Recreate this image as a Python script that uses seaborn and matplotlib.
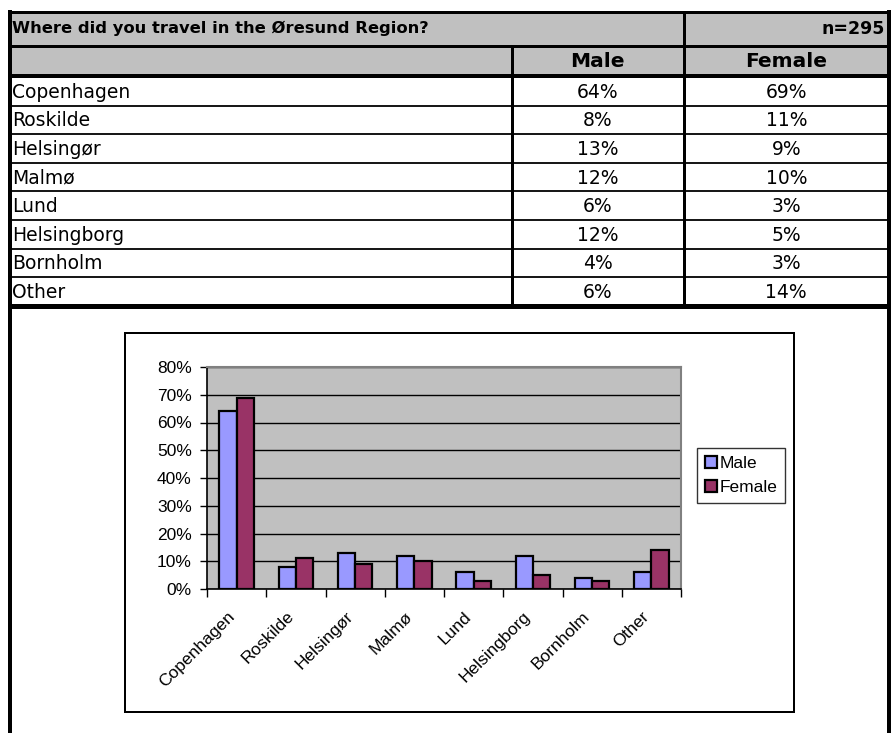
import matplotlib
matplotlib.use("Agg")
import matplotlib.pyplot as plt
import matplotlib.patches as mpatches
import matplotlib.transforms as mtransforms
from matplotlib.ticker import PercentFormatter, FixedLocator, NullFormatter
import seaborn as sns
import pandas as pd

# ---------------- data ----------------
title = "Where did you travel in the Øresund Region?"
n_label = "n=295"
categories = ["Copenhagen", "Roskilde", "Helsingør", "Malmø", "Lund",
              "Helsingborg", "Bornholm", "Other"]
male = [64, 8, 13, 12, 6, 12, 4, 6]
female = [69, 11, 9, 10, 3, 5, 3, 14]
series_names = ["Male", "Female"]
y_ticks = [0, 10, 20, 30, 40, 50, 60, 70, 80]

# ---------------- style ----------------
sns.set_theme(style="white")
plt.rcParams["font.family"] = ["Liberation Sans", "DejaVu Sans"]
plt.rcParams["text.color"] = "black"
plt.rcParams["xtick.color"] = "black"
plt.rcParams["ytick.color"] = "black"
plt.rcParams["axes.labelcolor"] = "black"

TF = ["DejaVu Sans"]  # table font

W, H = 891, 733
fig = plt.figure(figsize=(W / 100, H / 100), dpi=100)
fig.patch.set_facecolor("white")

# overlay axes in pixel coordinates for the table
ov = fig.add_axes([0, 0, 1, 1])
ov.set_xlim(0, W)
ov.set_ylim(H, 0)
ov.axis("off")

PX = 0.72  # points per pixel
gray = "#C0C0C0"
L, R = 10, 889
col1, col2 = 511.5, 683.5
title_top, title_bot = 11.5, 45.5
head_bot = 76
row_h = 28.6
data_top = 77
data_bot = data_top + row_h * len(categories)

ov.add_patch(mpatches.Rectangle((L, title_top), R - L, head_bot - title_top,
                                facecolor=gray, edgecolor="none"))

def hline(y, x0, x1, px):
    ov.plot([x0, x1], [y, y], color="black", lw=px * PX, solid_capstyle="butt")

def vline(x, y0, y1, px):
    ov.plot([x, x], [y0, y1], color="black", lw=px * PX, solid_capstyle="butt")

hline(title_top, L - 2, R + 2, 3)
hline(title_bot, L, R, 3)
hline(head_bot, L, R, 4)
for k in range(1, len(categories)):
    hline(data_top + row_h * k, L, R, 1.8)
hline(data_bot + 0.5, L - 2, R + 2, 5)
vline(L, title_top - 1.5, H, 4)
vline(R, title_top - 1.5, H, 4)
vline(col1, title_bot, data_bot, 3)
vline(col2, title_top, data_bot, 3)

ov.text(12, 28.5, title, fontsize=11.8, fontweight="bold", va="center", ha="left",
        family=TF)
ov.text(R - 4, 28.5, n_label, fontsize=12.5, fontweight="bold", va="center", ha="right",
        family=TF)
c1 = (col1 + col2) / 2
c2 = (col2 + R) / 2
ov.text(c1, 61.5, series_names[0], fontsize=14.5, fontweight="bold", va="center",
        ha="center", family=TF)
ov.text(c2, 61.5, series_names[1], fontsize=14.5, fontweight="bold", va="center",
        ha="center", family=TF)
for k, (cat, m, f) in enumerate(zip(categories, male, female)):
    yc = data_top + row_h * k + row_h / 2 + 1
    ov.text(12, yc, cat, fontsize=13.5, va="center", ha="left", family=TF)
    ov.text(c1, yc, f"{m}%", fontsize=13.5, va="center", ha="center", family=TF)
    ov.text(c2, yc, f"{f}%", fontsize=13.5, va="center", ha="center", family=TF)

# chart frame
ov.add_patch(mpatches.Rectangle((125, 332.5), 669, 379.5, facecolor="white",
                                edgecolor="black", lw=2 * PX))

# ---------------- chart ----------------
pl, pr, pt, pb = 207, 681, 367, 589
ax = fig.add_axes([pl / W, (H - pb) / H, (pr - pl) / W, (pb - pt) / H])
df = pd.DataFrame({
    "city": categories * 2,
    "value": male + female,
    "sex": [series_names[0]] * len(categories) + [series_names[1]] * len(categories),
})
sns.barplot(data=df, x="city", y="value", hue="sex", order=categories,
            hue_order=series_names, palette=["#9999FF", "#993366"],
            width=0.58, gap=0, edgecolor="black", linewidth=1.6,
            saturation=1, ax=ax, legend=True)

ax.set_facecolor(gray)
ax.set_ylim(0, 80)
ax.set_xlim(-0.5, len(categories) - 0.5)
ax.set_yticks(y_ticks)
ax.yaxis.set_major_formatter(PercentFormatter(decimals=0))
ax.grid(axis="y", color="black", lw=1.0)
ax.set_axisbelow(True)
ax.set_xlabel("")
ax.set_ylabel("")
for s in ["left", "bottom"]:
    ax.spines[s].set_color("black")
    ax.spines[s].set_linewidth(1.2)
for s in ["top", "right"]:
    ax.spines[s].set_color("#808080")
    ax.spines[s].set_linewidth(1.5)

ax.tick_params(axis="y", left=True, length=5, width=1, color="black",
               labelsize=12.5, pad=6, labelcolor="black")
ax.tick_params(axis="x", which="major", length=0, labelsize=12.5, pad=2,
               labelcolor="black")
ax.xaxis.set_minor_locator(FixedLocator([i - 0.5 for i in range(len(categories) + 1)]))
ax.xaxis.set_minor_formatter(NullFormatter())
ax.tick_params(axis="x", which="minor", bottom=True, length=6, width=1, color="black")
ax.set_xticks(range(len(categories)))
ax.set_xticklabels(categories, rotation=45, ha="right", rotation_mode="anchor",
                   fontsize=12.5)
offset = mtransforms.ScaledTranslation(-10 / 100, -17 / 100, fig.dpi_scale_trans)
for lab in ax.get_xticklabels():
    lab.set_transform(lab.get_transform() + offset)

leg = ax.legend(loc="upper left", bbox_to_anchor=(697 / W, (H - 448) / H),
                bbox_transform=fig.transFigure, frameon=True, fancybox=False,
                prop={"size": 12.5},
                handlelength=0.7, handleheight=0.7, handletextpad=0.15,
                borderpad=0.45, labelspacing=0.5, borderaxespad=0)
leg.get_frame().set_edgecolor("black")
leg.get_frame().set_linewidth(1.0)
for t in leg.get_texts():
    t.set_color("black")

fig.savefig("out.png", dpi=100, facecolor="white")
